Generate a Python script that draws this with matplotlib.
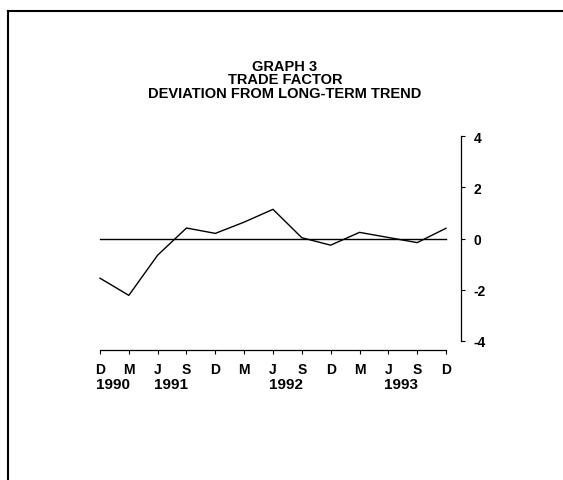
import matplotlib.pyplot as plt
from matplotlib.lines import Line2D
import numpy as np

plt.rcParams['font.family'] = ['Liberation Sans', 'DejaVu Sans']

# quarterly observations, Dec 1990 .. Dec 1993
months = ['D', 'M', 'J', 'S', 'D', 'M', 'J', 'S', 'D', 'M', 'J', 'S', 'D']
deviation = [-1.55, -2.22, -0.65, 0.41, 0.20, 0.64, 1.14, 0.03, -0.26, 0.24, 0.04, -0.16, 0.40]
years = ['1990', '1991', '1992', '1993']
year_pos = [0.45, 2.45, 6.45, 10.45]
y_ticks = [4, 2, 0, -2, -4]
title_lines = ['GRAPH 3', 'TRADE FACTOR', 'DEVIATION FROM LONG-TERM TREND']

W, H = 563, 481
fig = plt.figure(figsize=(W / 100, H / 100), dpi=100)

# page frame (top and left edges only)
fig.add_artist(Line2D([8 / W, 8 / W], [0, 1 - 11.5 / H], color='black', lw=1.5))
fig.add_artist(Line2D([8 / W, 1], [1 - 11.5 / H, 1 - 11.5 / H], color='black', lw=1.5))

for i, t in enumerate(title_lines):
    fig.text(285 / W, 1 - (67 + 13.5 * i) / H, t, ha='center', va='center',
             fontsize=10.5, fontweight='bold')

# axes placed so that x=0 sits at px 100 and the value axis at px 461
x0, x1 = -0.1, 12.52
ylo, yhi = -4.35, 4.3
px_l, px_r = 97.1, 461
px_t, px_b = 129.4, 350.9
ax = fig.add_axes([px_l / W, 1 - px_b / H, (px_r - px_l) / W, (px_b - px_t) / H])
ax.set_xlim(x0, x1)
ax.set_ylim(ylo, yhi)

x = np.arange(len(months))
ax.plot(x, deviation, color='black', lw=1.0)
ax.plot([x[0], x[-1]], [0, 0], color='black', lw=1.0)

for s in ['top', 'left']:
    ax.spines[s].set_visible(False)
ax.spines['bottom'].set_bounds(0, len(months) - 1)
ax.spines['right'].set_bounds(-4, 4)
ax.spines['bottom'].set_linewidth(0.9)
ax.spines['right'].set_linewidth(0.9)

ax.yaxis.tick_right()
ax.set_yticks(y_ticks)
ax.set_yticklabels([str(v) for v in y_ticks])
ax.tick_params(axis='y', direction='out', length=3, width=0.8, pad=6, labelsize=10)
for lab in ax.get_yticklabels():
    lab.set_fontweight('bold')

ax.set_xticks(x)
ax.set_xticklabels(months)
ax.tick_params(axis='x', direction='out', length=3, width=0.8, pad=6, labelsize=10)
for lab in ax.get_xticklabels():
    lab.set_fontweight('bold')

# year labels in a second row under the month letters
yr_y = -(378 - px_b) / (px_b - px_t)
for yr, p in zip(years, year_pos):
    ax.text(p, yr_y, yr, transform=ax.get_xaxis_transform(), ha='center', va='top',
            fontsize=11, fontweight='bold')

fig.savefig('out.png', dpi=100)
